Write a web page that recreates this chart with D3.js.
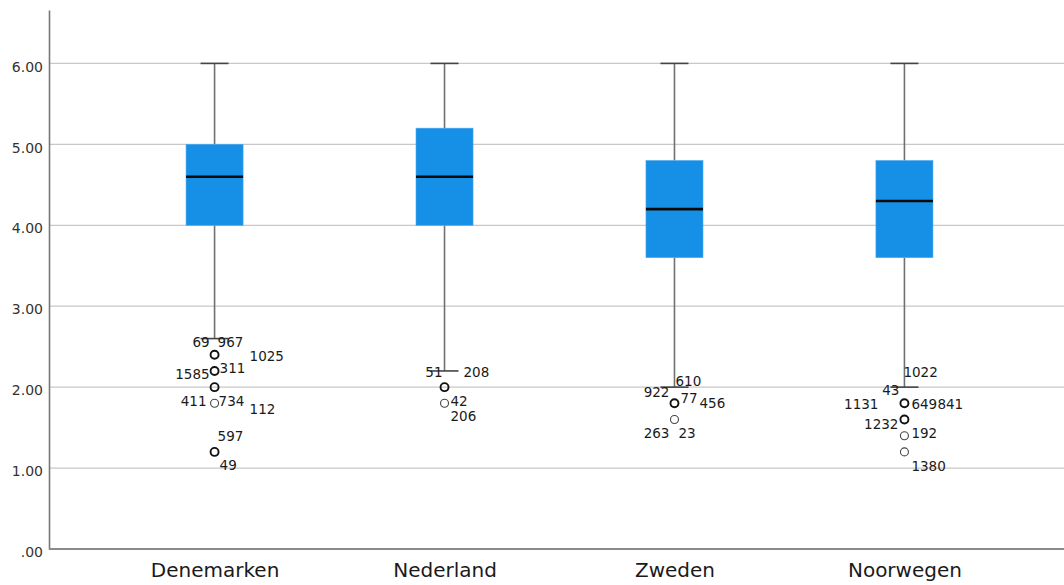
<!DOCTYPE html>
<html>
<head>
<meta charset="utf-8">
<script src="https://cdn.jsdelivr.net/npm/d3@7"></script>
<style>
  html, body { margin: 0; padding: 0; background: #fff; }
  svg { display: block; font-family: "DejaVu Sans", sans-serif; }
</style>
</head>
<body>
<svg id="chart" width="1064" height="585"></svg>
<script>
// Five-number summaries per country
const categories   = ["Denemarken", "Nederland", "Zweden", "Noorwegen"];
const whiskerLow   = [2.6, 2.2, 2.0, 2.0];
const quartile1    = [4.0, 4.0, 3.6, 3.6];
const medians      = [4.6, 4.6, 4.2, 4.3];
const quartile3    = [5.0, 5.2, 4.8, 4.8];
const whiskerHigh  = [6.0, 6.0, 6.0, 6.0];

// Outlier values per country and how many cases share each value
const outlierValues = [[2.4, 2.2, 2.0, 1.8, 1.2], [2.0, 1.8], [1.8, 1.6], [1.8, 1.6, 1.4, 1.2]];
const outlierCounts = [[3, 2, 2, 1, 2], [2, 1], [3, 1], [4, 2, 1, 1]];

// Case numbers of outlying cases: [country index, value, case id]
const outlierCases = [
  [0, 2.4, "69"], [0, 2.4, "967"], [0, 2.4, "1025"],
  [0, 2.2, "1585"], [0, 2.2, "311"],
  [0, 1.8, "411"], [0, 1.8, "734"], [0, 1.8, "112"],
  [0, 1.2, "597"], [0, 1.2, "49"],
  [1, 2.0, "51"], [1, 2.0, "208"],
  [1, 1.8, "42"], [1, 1.8, "206"],
  [2, 1.8, "610"], [2, 1.8, "922"], [2, 1.8, "77"], [2, 1.8, "456"],
  [2, 1.6, "263"], [2, 1.6, "23"],
  [3, 1.8, "1022"], [3, 1.8, "43"], [3, 1.8, "1131"], [3, 1.8, "649"], [3, 1.8, "841"],
  [3, 1.6, "1232"], [3, 1.4, "192"], [3, 1.2, "1380"]
];

const yTicks = [0, 1, 2, 3, 4, 5, 6];

// Label placement around each outlier marker (anchor, dx, dy), same order as outlierCases
const labelPlacement = [
  ["end", -5, -13], ["start", 3, -13], ["start", 35, 1],
  ["end", -5, 3], ["start", 5, -3],
  ["end", -8, -2], ["start", 4, -2], ["start", 35, 6],
  ["start", 3, -16], ["start", 5, 13],
  ["end", -2, -15], ["start", 19, -15],
  ["start", 6, -2], ["start", 6, 13],
  ["start", 1, -22], ["end", -5, -11], ["start", 6, -5], ["start", 25, 0],
  ["end", -5, 13], ["start", 4, 13],
  ["start", -1, -31], ["end", -5, -13], ["end", -26, 1], ["start", 7, 1], ["start", 33, 1],
  ["end", -6, 4], ["start", 7, -3], ["start", 7, 14]
];

const svg = d3.select("#chart");
const plotLeft = 49, plotBottom = 549, plotRight = 1070, plotTop = 10;

const y = d3.scaleLinear().domain([0, 6.66]).range([plotBottom, plotTop]);
const x = d3.scalePoint().domain(categories).range([plotLeft, plotRight]).padding(0.72);
const boxW = x.step() * 0.248;
const capW = 28;

// Horizontal grid lines
svg.append("g").selectAll("line")
  .data(yTicks.filter(d => d > 0))
  .join("line")
  .attr("x1", plotLeft).attr("x2", 1064)
  .attr("y1", d => y(d)).attr("y2", d => y(d))
  .attr("stroke", "#c8c8c8").attr("stroke-width", 1.3);

// Y axis
const yAxis = d3.axisLeft(y).tickValues(yTicks).tickSize(0).tickPadding(6)
  .tickFormat(d => d === 0 ? ".00" : d3.format(".2f")(d));
const gy = svg.append("g").attr("transform", `translate(${plotLeft},0)`).call(yAxis);
gy.select(".domain").attr("stroke", "#777").attr("stroke-width", 1.6);
gy.selectAll("text")
  .attr("font-size", 14).attr("fill", "#333")
  .attr("font-family", "DejaVu Sans, sans-serif")
  .attr("dy", "0.55em");

// X axis
const xAxis = d3.axisBottom(x).tickSize(0).tickPadding(14);
const gx = svg.append("g").attr("transform", `translate(0,${plotBottom})`).call(xAxis);
gx.select(".domain").attr("stroke", "#8a8a8a").attr("stroke-width", 2.2)
  .attr("d", `M${plotLeft},0H1064`);
gx.selectAll("text")
  .attr("font-size", 20).attr("fill", "#1a1a1a")
  .attr("font-family", "DejaVu Sans, sans-serif");

// Boxes, whiskers and medians
const groups = svg.append("g").selectAll("g")
  .data(categories.map((c, i) => ({
    c, lo: whiskerLow[i], q1: quartile1[i], med: medians[i], q3: quartile3[i], hi: whiskerHigh[i]
  })))
  .join("g")
  .attr("transform", d => `translate(${x(d.c)},0)`);

groups.append("line")
  .attr("x1", 0).attr("x2", 0)
  .attr("y1", d => y(d.hi)).attr("y2", d => y(d.q3))
  .attr("stroke", "#707070").attr("stroke-width", 1.6);
groups.append("line")
  .attr("x1", 0).attr("x2", 0)
  .attr("y1", d => y(d.q1)).attr("y2", d => y(d.lo))
  .attr("stroke", "#707070").attr("stroke-width", 1.6);
groups.append("line")
  .attr("x1", -capW / 2).attr("x2", capW / 2)
  .attr("y1", d => y(d.hi)).attr("y2", d => y(d.hi))
  .attr("stroke", "#444").attr("stroke-width", 1.6);
groups.append("line")
  .attr("x1", -capW / 2).attr("x2", capW / 2)
  .attr("y1", d => y(d.lo)).attr("y2", d => y(d.lo))
  .attr("stroke", "#444").attr("stroke-width", 1.6);
groups.append("rect")
  .attr("x", -boxW / 2).attr("width", boxW)
  .attr("y", d => y(d.q3)).attr("height", d => y(d.q1) - y(d.q3))
  .attr("fill", "#1690e6").attr("stroke", "#4aa8ee").attr("stroke-width", 0.6);
groups.append("line")
  .attr("x1", -boxW / 2).attr("x2", boxW / 2)
  .attr("y1", d => y(d.med)).attr("y2", d => y(d.med))
  .attr("stroke", "#0a0a0a").attr("stroke-width", 2.6);

// Outlier markers
const outlierPoints = [];
categories.forEach((c, i) => outlierValues[i].forEach((v, j) =>
  outlierPoints.push({ c, v, n: outlierCounts[i][j] })));

svg.append("g").selectAll("circle")
  .data(outlierPoints)
  .join("circle")
  .attr("cx", d => x(d.c)).attr("cy", d => y(d.v)).attr("r", 4)
  .attr("fill", "none")
  .attr("stroke", d => d.n > 1 ? "#111" : "#444")
  .attr("stroke-width", d => d.n > 1 ? 1.9 : 1.1);

// Case-number labels
svg.append("g").selectAll("text")
  .data(outlierCases.map((d, k) => ({ c: categories[d[0]], v: d[1], id: d[2], p: labelPlacement[k] })))
  .join("text")
  .attr("x", d => x(d.c) + d.p[1])
  .attr("y", d => y(d.v) + d.p[2] + 5)
  .attr("text-anchor", d => d.p[0])
  .attr("font-size", 13.5).attr("fill", "#1a1a1a")
  .text(d => d.id);
</script>
</body>
</html>
